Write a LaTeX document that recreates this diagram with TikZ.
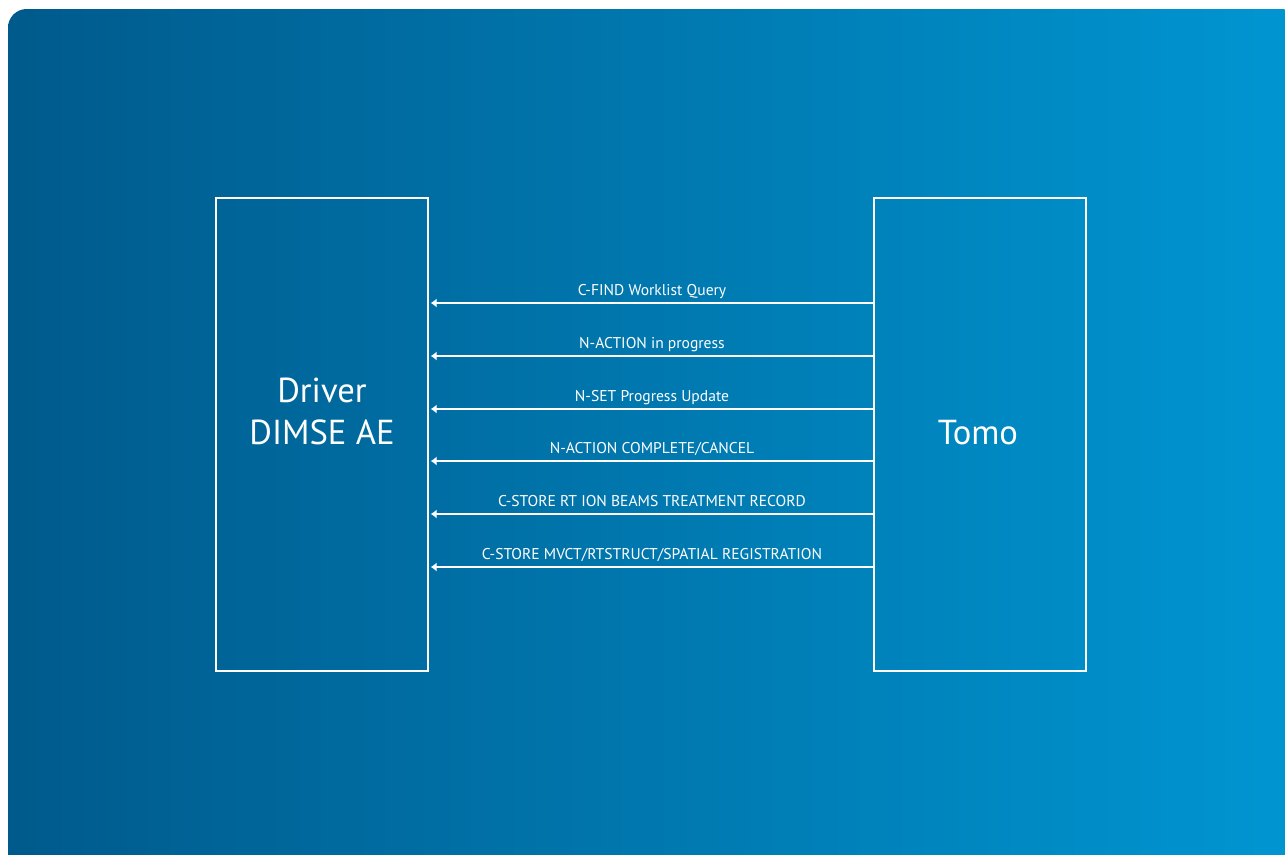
\documentclass[tikz,border=0pt]{standalone}
\usepackage{fontspec}
\setmainfont{PT Sans}
\usetikzlibrary{arrows.meta}
\definecolor{bgleft}{RGB}{0,90,140}
\definecolor{bgright}{RGB}{0,150,210}
\begin{document}
\begin{tikzpicture}[x=0.75pt,y=-0.75pt,
  box/.style={draw=white,line width=1.1pt,minimum width=159pt,minimum height=354.75pt,inner sep=0pt},
  title/.style={text=white,align=center,font=\fontsize{26}{31.5}\selectfont},
  msg/.style={draw=white,line width=0.9pt,-{Latex[length=4.5pt,width=7pt]}},
  msglabel/.style={text=white,font=\fontsize{11.7}{14}\selectfont,inner sep=0pt,text depth=2.5pt,above=3pt}]
\useasboundingbox (0,0) rectangle (1285,854);
\clip (0,0) rectangle (1285,854);
\shade[left color=bgleft,right color=bgright,rounded corners=14] (8,9) rectangle (1300,880);
\node[box] (driver) at (322,434.5) {};
\node[box] (tomo) at (980,434.5) {};
\node[title] (drivername) at (322,411) {Driver\\DIMSE AE};
\node[title] (tomoname) at (978,433) {Tomo};
\foreach \y/\txt [count=\i] in {303/{C-FIND Worklist Query},356/{N-ACTION in progress},409/{N-SET Progress Update},461/{N-ACTION COMPLETE/CANCEL},514/{C-STORE RT ION BEAMS TREATMENT RECORD},567/{C-STORE MVCT/RTSTRUCT/SPATIAL REGISTRATION}}
{
  \coordinate (r\i) at (651,\y);
  \draw[msg] (tomo.west |- r\i) -- ([xshift=1.5pt]driver.east |- r\i) node[msglabel,midway] (m\i) {\txt};
}
\end{tikzpicture}
\end{document}
